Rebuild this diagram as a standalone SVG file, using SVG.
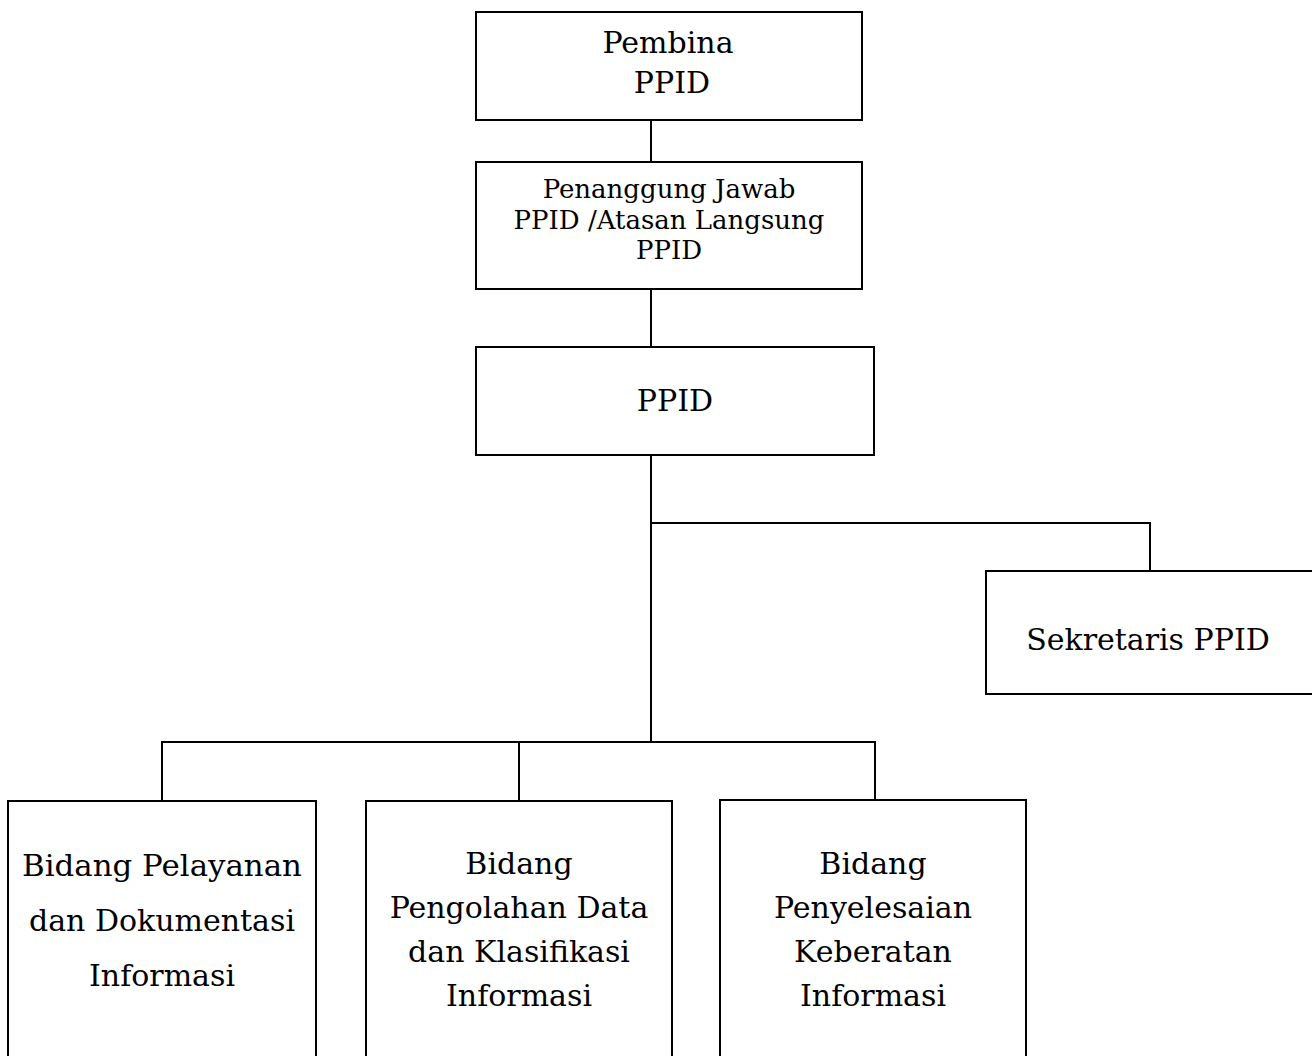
<svg xmlns="http://www.w3.org/2000/svg" width="1312" height="1056" viewBox="0 0 1312 1056">
<style>
.box{fill:#fff;stroke:#000;stroke-width:2}
.ln{fill:none;stroke:#000;stroke-width:2}
text{font-family:"DejaVu Serif","Liberation Serif",serif;fill:#000;text-anchor:middle}
.l{font-size:30px}
.s{font-size:26px}
</style>
<rect width="1312" height="1056" fill="#fff"/>
<g id="connectors">
<path class="ln" d="M651 120V162M651 289V347M651 455V742M651 523H1150V571M162 800V742H875V800M519 742V800"/>
</g>
<g id="pembina">
<rect class="box" x="476" y="12" width="386" height="108"/>
<text class="l" x="668" y="53">Pembina</text>
<text class="l" x="672" y="93">PPID</text>
</g>
<g id="penanggung">
<rect class="box" x="476" y="162" width="386" height="127"/>
<text class="s" x="669" y="198">Penanggung Jawab</text>
<text class="s" x="669" y="229">PPID /Atasan Langsung</text>
<text class="s" x="669" y="259">PPID</text>
</g>
<g id="ppid">
<rect class="box" x="476" y="347" width="398" height="108"/>
<text class="l" x="675" y="411">PPID</text>
</g>
<g id="sekretaris">
<rect class="box" x="986" y="571" width="330" height="123"/>
<text class="l" x="1148" y="650">Sekretaris PPID</text>
</g>
<g id="pelayanan">
<rect class="box" x="8" y="801" width="308" height="270"/>
<text class="l" x="162" y="876" textLength="280" lengthAdjust="spacingAndGlyphs">Bidang Pelayanan</text>
<text class="l" x="162" y="931">dan Dokumentasi</text>
<text class="l" x="162" y="986">Informasi</text>
</g>
<g id="pengolahan">
<rect class="box" x="366" y="801" width="306" height="270"/>
<text class="l" x="519" y="874">Bidang</text>
<text class="l" x="519" y="918">Pengolahan Data</text>
<text class="l" x="519" y="962">dan Klasifikasi</text>
<text class="l" x="519" y="1006">Informasi</text>
</g>
<g id="penyelesaian">
<rect class="box" x="720" y="800" width="306" height="270"/>
<text class="l" x="873" y="874">Bidang</text>
<text class="l" x="873" y="918">Penyelesaian</text>
<text class="l" x="873" y="962">Keberatan</text>
<text class="l" x="873" y="1006">Informasi</text>
</g>
</svg>
